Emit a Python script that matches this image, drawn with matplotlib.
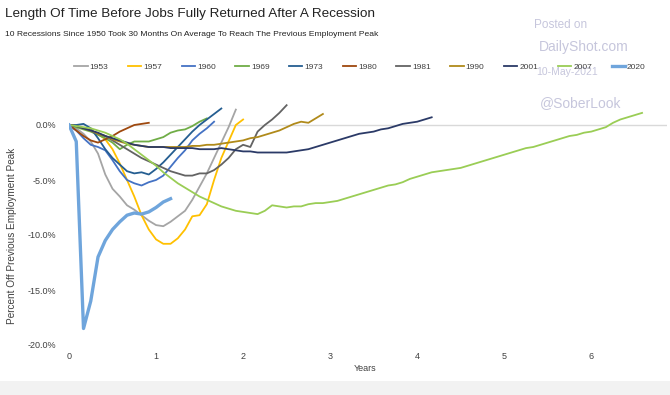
import numpy as np
import matplotlib
matplotlib.use("Agg")
import matplotlib.pyplot as plt
from matplotlib.patches import Rectangle

plt.rcParams['font.family'] = ['Liberation Sans', 'DejaVu Sans']

# --- данные: месячные значения, % от предыдущего пика занятости ---
years = ['1953', '1957', '1960', '1969', '1973', '1980', '1981', '1990', '2001', '2007', '2020']

r1953 = [0.0, -0.3, -0.8, -1.5, -2.6, -4.5, -5.8, -6.5, -7.3, -7.7, -8.2, -8.7,
         -9.1, -9.2, -8.8, -8.3, -7.8, -6.8, -5.6, -4.4, -3.0, -1.6, -0.2, 1.4]
r1957 = [0.0, -0.1, -0.3, -0.5, -0.8, -1.3, -2.2, -3.5, -5.0, -6.5, -8.2, -9.5,
         -10.4, -10.8, -10.8, -10.3, -9.5, -8.3, -8.2, -7.2, -5.0, -3.0, -1.5, 0.0, 0.5]
r1960 = [0.0, -0.5, -1.2, -1.8, -2.0, -2.3, -3.2, -4.2, -5.0, -5.3, -5.5, -5.2,
         -5.0, -4.6, -3.8, -3.0, -2.3, -1.4, -0.8, -0.3, 0.3]
r1969 = [0.0, -0.2, -0.4, -0.6, -0.9, -1.2, -1.6, -2.2, -1.8, -1.5, -1.5, -1.5,
         -1.3, -1.1, -0.7, -0.5, -0.4, -0.1, 0.3, 0.6]
r1973 = [0.0, 0.0, 0.1, -0.3, -1.2, -2.2, -3.0, -3.6, -4.2, -4.4, -4.3, -4.5,
         -4.0, -3.4, -2.7, -2.0, -1.3, -0.6, 0.0, 0.5, 1.0, 1.5]
r1980 = [0.0, -0.5, -1.0, -1.4, -1.6, -1.3, -1.0, -0.6, -0.3, 0.0, 0.1, 0.2]
r1981 = [0.0, -0.1, -0.3, -0.5, -0.8, -1.0, -1.4, -1.8, -2.2, -2.6, -3.0, -3.3,
         -3.6, -3.9, -4.2, -4.4, -4.6, -4.6, -4.4, -4.4, -4.1, -3.6, -3.0, -2.2,
         -1.8, -2.0, -0.6, 0.0, 0.5, 1.1, 1.8]
r1990 = [0.0, -0.1, -0.3, -0.5, -0.8, -1.0, -1.3, -1.5, -1.7, -1.8, -1.9, -2.0,
         -2.0, -2.0, -2.0, -2.0, -2.0, -1.9, -1.9, -1.8, -1.8, -1.7, -1.6, -1.5,
         -1.4, -1.2, -1.1, -0.9, -0.7, -0.5, -0.2, 0.1, 0.3, 0.2, 0.6, 1.0]
r2001 = [0.0, -0.1, -0.3, -0.5, -0.7, -1.0, -1.2, -1.4, -1.6, -1.8, -1.9, -2.0,
         -2.0, -2.0, -2.1, -2.1, -2.1, -2.1, -2.2, -2.2, -2.2, -2.1, -2.2, -2.3,
         -2.4, -2.4, -2.5, -2.5, -2.5, -2.5, -2.5, -2.4, -2.3, -2.2, -2.0, -1.8,
         -1.6, -1.4, -1.2, -1.0, -0.8, -0.7, -0.6, -0.4, -0.3, -0.1, 0.1, 0.2,
         0.3, 0.5, 0.7]
r2007 = [0.0, -0.1, -0.2, -0.3, -0.5, -0.7, -1.0, -1.3, -1.7, -2.2, -2.7, -3.2,
         -3.7, -4.3, -4.8, -5.3, -5.7, -6.1, -6.5, -6.8, -7.1, -7.4, -7.6, -7.8,
         -7.9, -8.0, -8.1, -7.8, -7.3, -7.4, -7.5, -7.4, -7.4, -7.2, -7.1, -7.1,
         -7.0, -6.9, -6.7, -6.5, -6.3, -6.1, -5.9, -5.7, -5.5, -5.4, -5.2, -4.9,
         -4.7, -4.5, -4.3, -4.2, -4.1, -4.0, -3.9, -3.7, -3.5, -3.3, -3.1, -2.9,
         -2.7, -2.5, -2.3, -2.1, -2.0, -1.8, -1.6, -1.4, -1.2, -1.0, -0.9, -0.7,
         -0.6, -0.4, -0.2, 0.2, 0.5, 0.7, 0.9, 1.1]
r2020 = [0.0, -1.5, -18.5, -16.0, -12.0, -10.5, -9.5, -8.8, -8.2, -8.0, -8.1,
         -7.9, -7.5, -7.0, -6.7]

series = [r1953, r1957, r1960, r1969, r1973, r1980, r1981, r1990, r2001, r2007, r2020]
colors = ['#a5a5a5', '#ffc000', '#4472c4', '#70ad47', '#255e91', '#9e480e',
          '#636363', '#b08a1a', '#2b3a67', '#9acd55', '#6fa5dc']
widths = [1.3] * 10 + [2.4]

ytick_vals = [0, -5, -10, -15, -20]
xtick_vals = [0, 1, 2, 3, 4, 5, 6]

fig = plt.figure(figsize=(6.7, 3.95), dpi=100)
ax = fig.add_axes([69 / 670, 1 - 345 / 395, 598 / 670, 275 / 395])

ax.axhline(0, color='#d9d9d9', linewidth=1.0, zorder=1)
for name, vals, c, lw in zip(years, series, colors, widths):
    t = np.arange(len(vals)) / 12.0
    ax.plot(t, vals, color=c, linewidth=lw, label=name, zorder=3)

ax.set_xlim(0, 6.87)
ax.set_ylim(-20, 5)
ax.set_xticks(xtick_vals)
ax.set_xticklabels([str(v) for v in xtick_vals], fontsize=6.5, color='#404040')
ax.set_yticks(ytick_vals)
ax.set_yticklabels(['%.1f%%' % v for v in ytick_vals], fontsize=6.5, color='#404040')
ax.tick_params(axis='x', length=0, pad=5)
ax.tick_params(axis='y', length=0, pad=9)
for s in ax.spines.values():
    s.set_visible(False)
ax.set_xlabel('Years', fontsize=6.5, color='#404040')
ax.xaxis.set_label_coords((365 - 69) / 598, -0.07)
fig.text(12 / 670, 1 - 236 / 395, 'Percent Off Previous Employment Peak',
         rotation=90, fontsize=7.2, color='#404040', ha='center', va='center')

fig.legend(loc='center', bbox_to_anchor=(360 / 670, 1 - 67 / 395), ncol=11,
           frameon=False, fontsize=6, handlelength=1.6, handletextpad=0.25,
           columnspacing=2.35, labelcolor='#404040')

fig.text(5 / 670, 1 - 17 / 395, 'Length Of Time Before Jobs Fully Returned After A Recession',
         fontsize=9.7, color='#222222', ha='left', va='baseline')
fig.text(5 / 670, 1 - 36 / 395,
         '10 Recessions Since 1950 Took 30 Months On Average To Reach The Previous Employment Peak',
         fontsize=6.1, color='#222222', ha='left', va='baseline')

wm = '#c6c6dc'
fig.text(534 / 670, 1 - 25 / 395, 'Posted on', fontsize=8.5, color=wm, va='center')
fig.text(539 / 670, 1 - 47 / 395, 'DailyShot.com', fontsize=10, color=wm, va='center')
fig.text(536 / 670, 1 - 72 / 395, '10-May-2021', fontsize=7.5, color=wm, va='center')
fig.text(540 / 670, 1 - 103 / 395, '@SoberLook', fontsize=10, color=wm, va='center')

fig.patches.append(Rectangle((0, 0), 1, 14 / 395, transform=fig.transFigure,
                             facecolor='#f2f2f2', edgecolor='none', zorder=0))

fig.savefig('out.png', dpi=100)
